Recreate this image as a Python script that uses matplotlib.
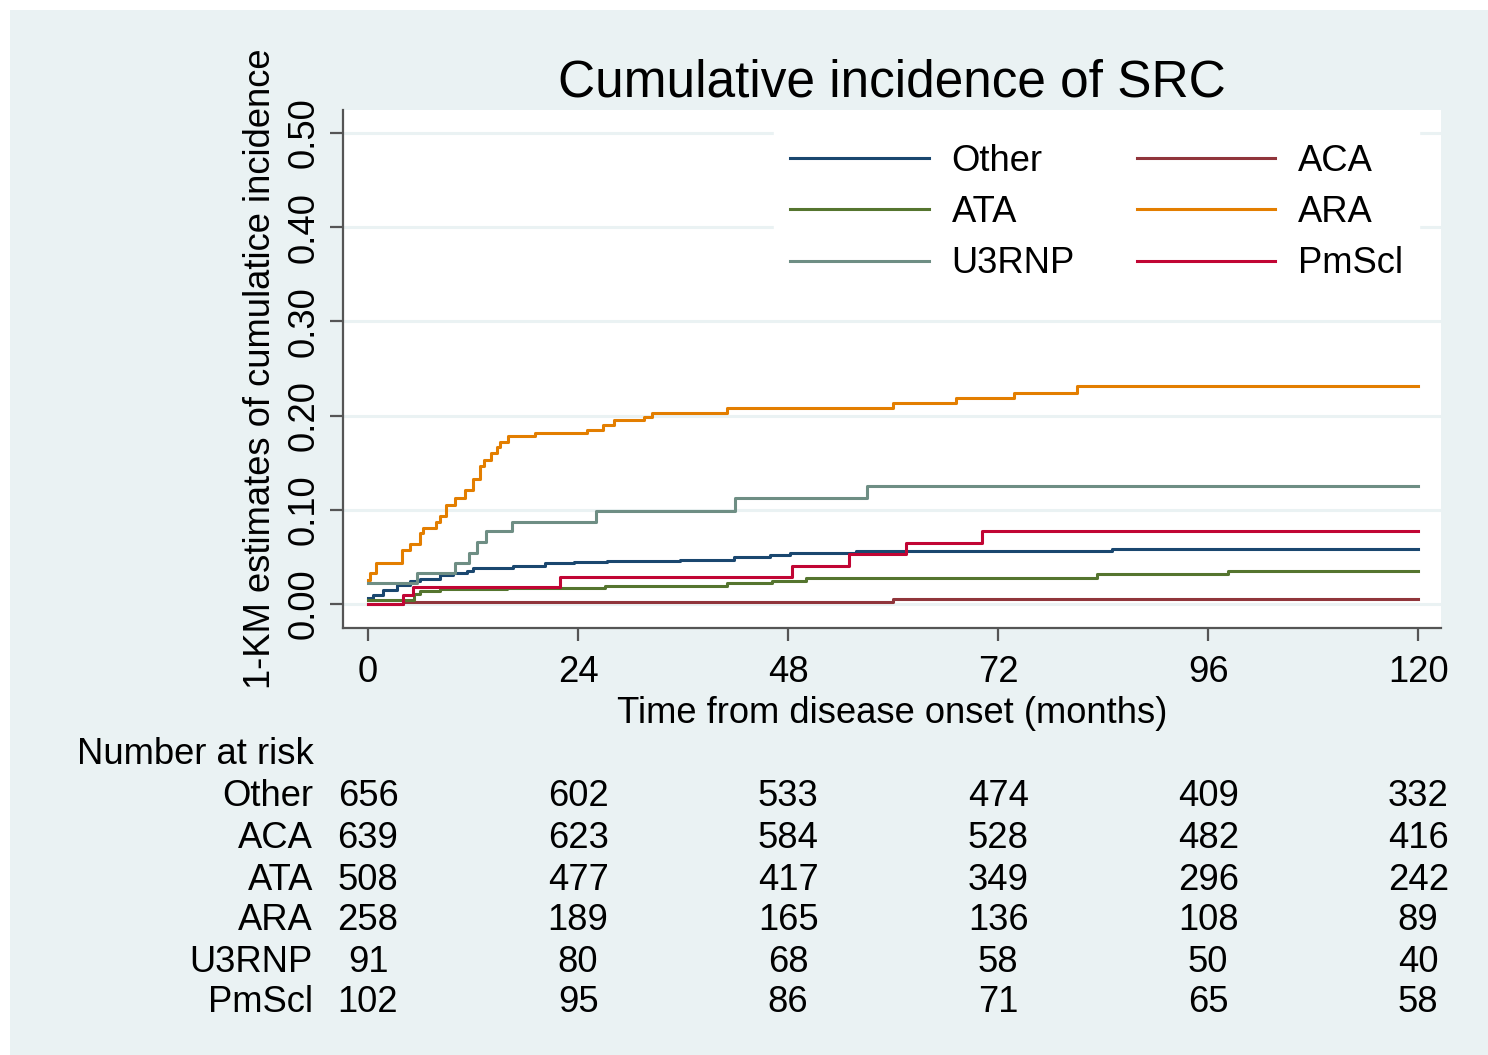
import matplotlib
matplotlib.use("Agg")
import matplotlib.pyplot as plt
from matplotlib.patches import Rectangle

plt.rcParams["font.family"] = ["Liberation Sans", "DejaVu Sans"]

# step curves: (month, cumulative incidence) at each jump
other_t = [0, 0.6, 1.75, 3.3, 4.8, 5.9, 8.2, 9.75, 11.3, 12.0, 16.6, 20.2, 23.5, 27.3, 35.7, 41.8, 45.9, 48.2, 55.8, 85.0]
other_y = [0.006, 0.010, 0.015, 0.020, 0.024, 0.027, 0.031, 0.033, 0.035, 0.038, 0.040, 0.044, 0.045, 0.0456, 0.047, 0.0495, 0.052, 0.0545, 0.056, 0.0584]

aca_t = [0, 4.0, 30.0, 60.0]
aca_y = [0.0, 0.002, 0.0025, 0.005]

ata_t = [0, 5.2, 5.9, 8.2, 15.9, 27.1, 41.0, 46.2, 50.1, 83.3, 98.3]
ata_y = [0.004, 0.011, 0.014, 0.0156, 0.017, 0.019, 0.022, 0.0247, 0.028, 0.032, 0.035]

ara_t = [0, 0.23, 0.9, 3.85, 4.8, 5.9, 6.3, 7.8, 8.2, 8.9, 9.9, 11.1, 12.0, 12.8, 13.2, 14.1,
         14.7, 15.1, 16.0, 19.1, 25.0, 26.9, 28.1, 31.5, 32.4, 41.0, 60.0, 67.2, 73.8, 81.0]
ara_y = [0.025, 0.033, 0.044, 0.057, 0.064, 0.075, 0.081, 0.087, 0.093, 0.105, 0.112, 0.121, 0.133, 0.146,
         0.153, 0.160, 0.167, 0.172, 0.178, 0.182, 0.185, 0.190, 0.195, 0.199, 0.203, 0.208, 0.213, 0.219,
         0.224, 0.231]

u3rnp_t = [0, 5.6, 9.9, 11.5, 12.4, 13.5, 16.5, 26.1, 41.9, 57.0]
u3rnp_y = [0.022, 0.033, 0.043, 0.054, 0.066, 0.077, 0.087, 0.099, 0.112, 0.125]

pmscl_t = [0, 4.0, 5.1, 21.9, 48.4, 55.0, 61.5, 70.1]
pmscl_y = [0.0, 0.0096, 0.018, 0.029, 0.040, 0.053, 0.065, 0.0775]

groups = ["Other", "ACA", "ATA", "ARA", "U3RNP", "PmScl"]
colors = ["#1a476f", "#90353b", "#55752f", "#e37e00", "#6e8e84", "#c10534"]
curves = [(other_t, other_y), (aca_t, aca_y), (ata_t, ata_y),
          (ara_t, ara_y), (u3rnp_t, u3rnp_y), (pmscl_t, pmscl_y)]

risk_times = [0, 24, 48, 72, 96, 120]
risk_other = [656, 602, 533, 474, 409, 332]
risk_aca = [639, 623, 584, 528, 482, 416]
risk_ata = [508, 477, 417, 349, 296, 242]
risk_ara = [258, 189, 165, 136, 108, 89]
risk_u3rnp = [91, 80, 68, 58, 50, 40]
risk_pmscl = [102, 95, 86, 71, 65, 58]
risk_rows = [risk_other, risk_aca, risk_ata, risk_ara, risk_u3rnp, risk_pmscl]

end_time = 120
bg = "#eaf2f3"
W, H = 1488, 1055
fs = 26.2  # common text size (pt)

fig = plt.figure(figsize=(W / 100, H / 100), dpi=100, facecolor="white")
# light panel, white strip only at top and left
fig.patches.append(Rectangle((10 / W, 0), 1, 1 - 10 / H, transform=fig.transFigure,
                             facecolor=bg, edgecolor="none", zorder=-10))

ax = fig.add_axes([343 / W, 1 - 628 / H, (1441 - 343) / W, (628 - 110) / H])
ax.set_facecolor("white")
ax.set_xlim(-2.86, 122.6)
ax.set_ylim(-0.0255, 0.5244)

for y in [0.0, 0.1, 0.2, 0.3, 0.4, 0.5]:
    ax.axhline(y, color=bg, lw=2.2, zorder=0)

for (t, y), c, name in zip(curves, colors, groups):
    ax.step(list(t) + [end_time], list(y) + [y[-1]], where="post",
            color=c, lw=2.2, label=name, zorder=3)

for s in ["top", "right"]:
    ax.spines[s].set_visible(False)
for s in ["left", "bottom"]:
    ax.spines[s].set_color("#555555")
    ax.spines[s].set_linewidth(1.6)

ax.set_xticks(risk_times)
ax.set_yticks([0.0, 0.1, 0.2, 0.3, 0.4, 0.5])
ax.set_yticklabels(["0.00", "0.10", "0.20", "0.30", "0.40", "0.50"],
                   rotation=90, va="center")
ax.tick_params(axis="both", labelsize=fs, length=9.5, width=1.6, color="#555555",
               labelcolor="black")
ax.tick_params(axis="x", pad=10)
ax.tick_params(axis="y", pad=6)

ax.set_xlabel("Time from disease onset (months)", fontsize=fs, labelpad=4)
ax.set_ylabel("1-KM estimates of cumulatice incidence", fontsize=fs, labelpad=6)
ax.set_title("Cumulative incidence of SRC", fontsize=37, pad=10)

handles, labels = ax.get_legend_handles_labels()
order = [0, 2, 4, 1, 3, 5]
leg = ax.legend([handles[i] for i in order], [labels[i] for i in order],
                ncol=2, loc="upper left", bbox_to_anchor=(0.376, 1.002),
                fontsize=fs, frameon=True, fancybox=False, handlelength=3.8,
                handletextpad=0.63, columnspacing=1.7, labelspacing=0.45,
                borderpad=0.45)
leg.get_frame().set_edgecolor("white")
leg.get_frame().set_facecolor("white")
leg.get_frame().set_alpha(1.0)

# number at risk table
fig.text(77 / W, 1 - 755 / H, "Number at risk", fontsize=fs, ha="left", va="center")
row_y = [797, 838, 880, 920, 962, 1003]
for name, vals, py in zip(groups, risk_rows, row_y):
    fy = 1 - py / H
    fig.text(313 / W, fy, name, fontsize=fs, ha="right", va="center")
    for t, v in zip(risk_times, vals):
        xd = ax.transData.transform((t, 0))[0]
        fig.text(xd / W, fy, str(v), fontsize=fs, ha="center", va="center")

fig.savefig("out.png", dpi=100, facecolor=fig.get_facecolor())
